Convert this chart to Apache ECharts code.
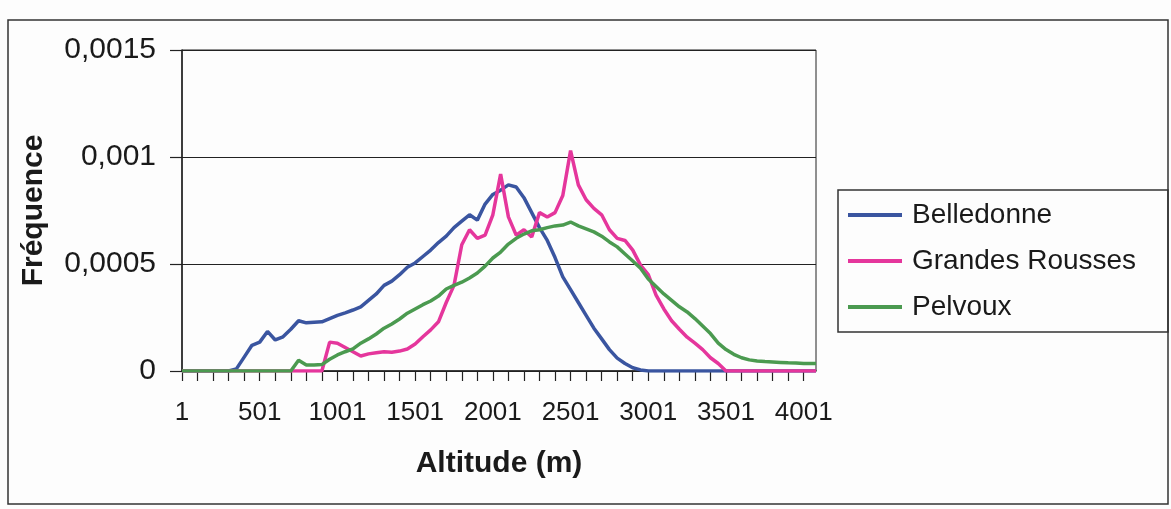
<!DOCTYPE html>
<html>
<head>
<meta charset="utf-8">
<script src="https://cdn.jsdelivr.net/npm/echarts@6/dist/echarts.min.js"></script>
<style>
  html, body { margin: 0; padding: 0; background: #fdfdfd; }
  #chart { width: 1171px; height: 509px; }
</style>
</head>
<body>
<div id="chart"></div>
<script>
// altitude (m), one point every 50 m
const altitudes = [
  1, 51, 101, 151, 201, 251, 301, 351, 401, 451,
  501, 551, 601, 651, 701, 751, 801, 851, 901, 951,
  1001, 1051, 1101, 1151, 1201, 1251, 1301, 1351, 1401, 1451,
  1501, 1551, 1601, 1651, 1701, 1751, 1801, 1851, 1901, 1951,
  2001, 2051, 2101, 2151, 2201, 2251, 2301, 2351, 2401, 2451,
  2501, 2551, 2601, 2651, 2701, 2751, 2801, 2851, 2901, 2951,
  3001, 3051, 3101, 3151, 3201, 3251, 3301, 3351, 3401, 3451,
  3501, 3551, 3601, 3651, 3701, 3751, 3801, 3851, 3901, 3951,
  4001, 4051, 4080
];

// frequencies, in units of 1e-4
const belledonne = [
  0, 0, 0, 0, 0, 0, 0, 0.1, 0.65, 1.2,
  1.35, 1.85, 1.45, 1.6, 1.95, 2.35, 2.25, 2.28, 2.3, 2.45,
  2.6, 2.72, 2.85, 3.0, 3.3, 3.6, 4.0, 4.2, 4.5, 4.85,
  5.05, 5.35, 5.65, 6.0, 6.3, 6.7, 7.0, 7.3, 7.05, 7.8,
  8.25, 8.45, 8.7, 8.6, 8.1, 7.4, 6.7, 6.1, 5.3, 4.4,
  3.8, 3.2, 2.6, 2.0, 1.5, 1.0, 0.6, 0.35, 0.15, 0.05,
  0, 0, 0, 0, 0, 0, 0, 0, 0, 0,
  0, 0, 0, 0, 0, 0, 0, 0, 0, 0,
  0, 0, 0
];

const grandesRousses = [
  0, 0, 0, 0, 0, 0, 0, 0, 0, 0,
  0, 0, 0, 0, 0, 0, 0, 0, 0, 1.35,
  1.3, 1.1, 0.9, 0.7, 0.8, 0.85, 0.9, 0.88, 0.93, 1.03,
  1.26, 1.6, 1.92, 2.3, 3.2, 4.0, 5.9, 6.6, 6.2, 6.35,
  7.3, 9.2, 7.2, 6.35, 6.6, 6.26, 7.4, 7.2, 7.4, 8.2,
  10.3, 8.7, 8.0, 7.6, 7.3, 6.6, 6.2, 6.1, 5.65, 4.95,
  4.5, 3.55, 2.9, 2.35, 1.95, 1.58, 1.3, 1.0, 0.62, 0.35,
  0, 0, 0, 0, 0, 0, 0, 0, 0, 0,
  0, 0, 0
];

const pelvoux = [
  0, 0, 0, 0, 0, 0, 0, 0, 0, 0,
  0, 0, 0, 0, 0, 0.5, 0.28, 0.28, 0.3, 0.55,
  0.75, 0.9, 1.03, 1.3, 1.5, 1.73, 2.0, 2.2, 2.43, 2.7,
  2.9, 3.1, 3.27, 3.5, 3.83, 4.0, 4.15, 4.35, 4.58, 4.9,
  5.28, 5.56, 5.93, 6.2, 6.4, 6.55, 6.6, 6.7, 6.78, 6.82,
  6.96, 6.78, 6.64, 6.5, 6.3, 6.03, 5.8, 5.47, 5.14, 4.8,
  4.3, 3.95, 3.6, 3.3, 3.0, 2.76, 2.45, 2.1, 1.75, 1.3,
  1.0, 0.78, 0.62, 0.52, 0.47, 0.44, 0.42, 0.4, 0.38, 0.37,
  0.35, 0.35, 0.35
];

const seriesNames = ['Belledonne', 'Grandes Rousses', 'Pelvoux'];
const seriesColors = ['#3a55a0', '#e5369c', '#4b9a50'];
const xTickLabels = [1, 501, 1001, 1501, 2001, 2501, 3001, 3501, 4001];
const yTickLabels = [0, 0.0005, 0.001, 0.0015];

const unit = 1e-4;
const font = 'Liberation Sans, Arial, sans-serif';

// small ticks every 100 m on the x axis
const xMinorTicks = [];
for (let a = 1; a <= 4001; a += 100) xMinorTicks.push(a);

function toPoints(values) {
  return altitudes.map((a, i) => [a, values[i] * unit]);
}

const chart = echarts.init(document.getElementById('chart'), null, { renderer: 'canvas' });

const option = {
  backgroundColor: '#fdfdfd',
  animation: false,
  graphic: [
    {
      type: 'rect',
      shape: { x: 8, y: 20, width: 1160, height: 484 },
      style: { fill: 'none', stroke: '#333', lineWidth: 1.5 }
    },
    {
      type: 'rect',
      shape: { x: 838, y: 190, width: 330, height: 142 },
      style: { fill: 'none', stroke: '#333', lineWidth: 1.5 }
    }
  ],
  legend: {
    orient: 'vertical',
    left: 848,
    top: 199,
    padding: 0,
    itemGap: 14,
    itemWidth: 54,
    itemHeight: 4,
    icon: 'rect',
    data: seriesNames,
    textStyle: {
      fontFamily: font,
      fontSize: 28,
      lineHeight: 32,
      color: '#1a1a1a',
      padding: [0, 0, 0, 5]
    }
  },
  grid: {
    left: 182,
    top: 50,
    width: 634,
    height: 321,
    show: true,
    borderColor: '#222',
    borderWidth: 1,
    backgroundColor: 'transparent'
  },
  xAxis: {
    type: 'value',
    min: 1,
    max: 4080,
    name: 'Altitude (m)',
    nameLocation: 'middle',
    nameGap: 78,
    nameTextStyle: { fontFamily: font, fontSize: 30, fontWeight: 'bold', color: '#1a1a1a' },
    axisLine: { show: true, onZero: false, lineStyle: { color: '#222', width: 1.5 } },
    axisTick: {
      show: true,
      length: 10,
      customValues: xMinorTicks,
      lineStyle: { color: '#222', width: 1.2 }
    },
    axisLabel: {
      customValues: xTickLabels,
      margin: 29,
      fontFamily: font,
      fontSize: 26,
      color: '#1a1a1a',
      formatter: v => String(v)
    },
    splitLine: { show: false }
  },
  yAxis: {
    type: 'value',
    min: 0,
    max: 0.0015,
    interval: 0.0005,
    name: 'Fréquence',
    nameLocation: 'middle',
    nameGap: 133,
    nameTextStyle: { fontFamily: font, fontSize: 30, fontWeight: 'bold', color: '#1a1a1a' },
    axisLine: { show: true, lineStyle: { color: '#222', width: 1.5 } },
    axisTick: { show: true, length: 12, lineStyle: { color: '#222', width: 1.2 } },
    axisLabel: {
      customValues: yTickLabels,
      margin: 26,
      fontFamily: font,
      fontSize: 30,
      color: '#1a1a1a',
      formatter: v => String(v).replace('.', ',')
    },
    splitLine: { show: true, lineStyle: { color: '#222', width: 1 } }
  },
  series: [
    {
      name: seriesNames[0],
      type: 'line',
      data: toPoints(belledonne),
      showSymbol: false,
      color: seriesColors[0],
      lineStyle: { width: 3.5 }
    },
    {
      name: seriesNames[1],
      type: 'line',
      data: toPoints(grandesRousses),
      showSymbol: false,
      color: seriesColors[1],
      lineStyle: { width: 3.5 }
    },
    {
      name: seriesNames[2],
      type: 'line',
      data: toPoints(pelvoux),
      showSymbol: false,
      color: seriesColors[2],
      lineStyle: { width: 3.5 }
    }
  ]
};

chart.setOption(option);
</script>
</body>
</html>
